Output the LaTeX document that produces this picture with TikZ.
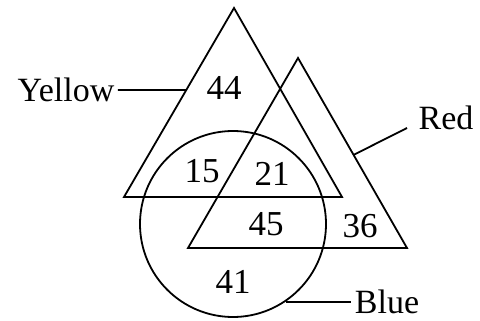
\documentclass[tikz,border=0pt]{standalone}
\usepackage{fontspec}
\setmainfont{Liberation Serif}
\usetikzlibrary{calc}
\tikzset{outline/.style={draw=black,line width=1.8pt,line join=miter},
  count/.style={font=\fontsize{35}{35}\selectfont,inner sep=0pt},
  setname/.style={font=\fontsize{34}{34}\selectfont}}

\begin{document}
\begin{tikzpicture}[x=1pt,y=-1pt]
\useasboundingbox (0,0) rectangle (480,321);
% the three sets
\coordinate (ytop) at (234,8);
\coordinate (yleft) at (124,197);
\coordinate (yright) at (342,197);
\coordinate (rtop) at (298,58);
\coordinate (rleft) at (188,248);
\coordinate (rright) at (407,248);
\draw[outline] (ytop) -- (yright) -- (yleft) -- cycle;
\draw[outline] (rtop) -- (rright) -- (rleft) -- cycle;
\node[outline,circle,minimum size=186pt,inner sep=0pt] (bluecirc) at (233,224) {};
% region counts
\node[count] (n44) at (224,88) {44};
\node[count] (n15) at (202,171) {15};
\node[count] (n21) at (272,174) {21};
\node[count] (n45) at (266,224) {45};
\node[count] (n36) at (360,226) {36};
\node[count] (n41) at (233,282) {41};
% set names
\node[setname] (yellow) at (66,90) {Yellow};
\coordinate (yedge) at ($(ytop)!0.434!(yleft)$);
\draw[outline] (yellow.east) -- (yedge);
\node[setname] (red) at (446,118) {Red};
\coordinate (redge) at ($(rtop)!0.51!(rright)$);
\coordinate (redtip) at (407,128);
\draw[outline] (redge) -- (redtip);
\node[setname] (blue) at (387,302) {Blue};
\draw[outline] (bluecirc.-56) -- (bluecirc.-56 -| blue.west);
\end{tikzpicture}
\end{document}
